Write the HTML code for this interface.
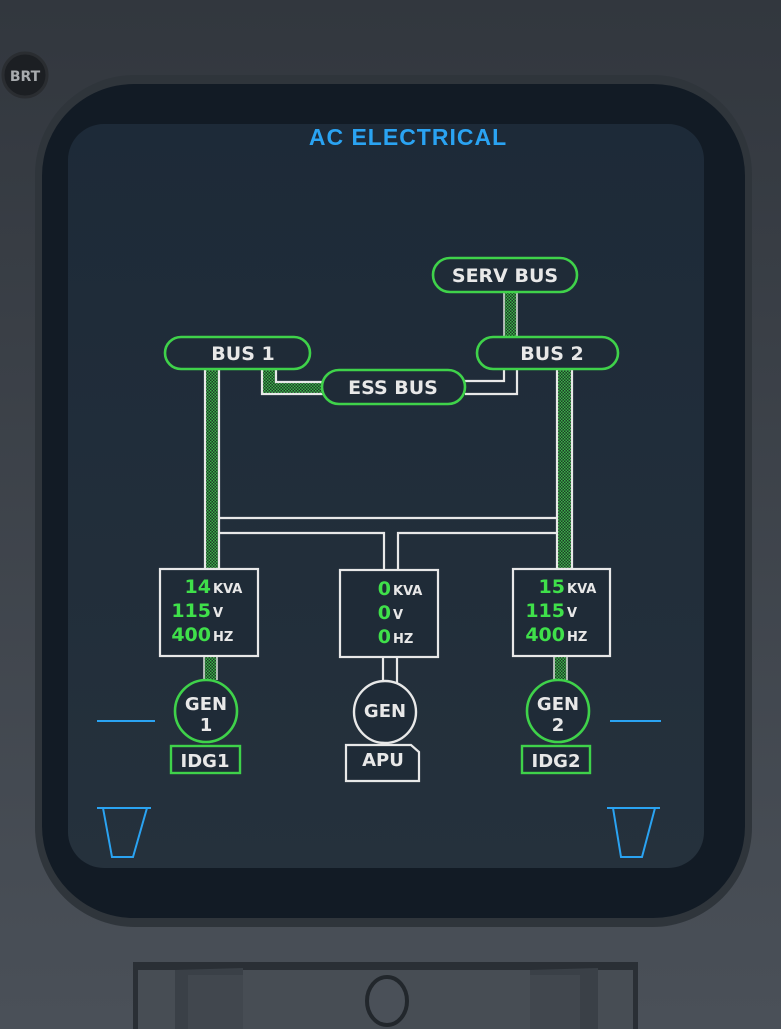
<!DOCTYPE html>
<html><head><meta charset="utf-8"><style>
html,body{margin:0;padding:0;width:781px;height:1029px;overflow:hidden;background:#3c4249}
svg{display:block}
text{font-family:"DejaVu Sans","Liberation Sans",sans-serif;font-weight:bold}
</style></head><body>
<svg width="781" height="1029" viewBox="0 0 781 1029" xmlns="http://www.w3.org/2000/svg">
<defs>
<linearGradient id="bg" x1="0" y1="0" x2="0" y2="1"><stop offset="0" stop-color="#32373e"/><stop offset="1" stop-color="#4a5058"/></linearGradient>
<linearGradient id="scr" x1="0" y1="0" x2="0" y2="1"><stop offset="0" stop-color="#1d2a38"/><stop offset="1" stop-color="#25313c"/></linearGradient>
<pattern id="h" width="3" height="3" patternUnits="userSpaceOnUse"><rect width="3" height="3" fill="#1d3a26"/><rect width="1.5" height="1.5" fill="#3bb04a"/><rect x="1.5" y="1.5" width="1.5" height="1.5" fill="#3bb04a"/></pattern>
</defs>
<rect width="781" height="1029" fill="url(#bg)"/>
<circle cx="25" cy="75" r="22" fill="#1c1f23" stroke="#2a2d31" stroke-width="3"/>
<text x="25" y="81" font-size="14" fill="#a8abae" text-anchor="middle" font-weight="normal">BRT</text>
<rect x="35" y="75" width="717" height="852" rx="100" fill="#2f353b"/>
<rect x="42" y="84" width="703" height="834" rx="92" fill="#121b25"/>
<rect x="68" y="124" width="636" height="744" rx="36" fill="url(#scr)"/>
<text x="408" y="145" font-size="23" fill="#2aa3f2" text-anchor="middle" style="font-family:'Liberation Sans',sans-serif;font-weight:bold" letter-spacing="1">AC ELECTRICAL</text>

<g stroke="#e8e8e8" stroke-width="2.2" fill="none">
<rect x="205" y="369" width="14" height="200" fill="url(#h)"/>
<rect x="557" y="369" width="15" height="200" fill="url(#h)"/>
<rect x="204" y="656" width="13" height="24" fill="url(#h)" stroke="none"/>
<rect x="554" y="656" width="13" height="24" fill="url(#h)" stroke="none"/>
<rect x="504" y="292" width="13" height="45" fill="url(#h)" stroke="none"/>
<path d="M262 369 V394 H323 V382 H276 V369 Z" fill="url(#h)"/>
<path d="M465 381 H504 V369 M465 394 H517 V369"/>
<path d="M219 518 H557 M219 533 H384 V569 M398 569 V533 H557"/>
<path d="M383 657 V688 M397 657 V688"/>
</g>
<path d="M204 656 V680 M217 656 V680 M554 656 V680 M567 656 V680 M504 292 V337 M517 292 V337" stroke="#ddd" stroke-width="1.5"/>

<g stroke="#3fd24a" stroke-width="2.6" fill="#1f2b37">
<rect x="433" y="258" width="144" height="34" rx="17"/>
<rect x="165" y="337" width="145" height="32" rx="16"/>
<rect x="477" y="337" width="141" height="32" rx="16"/>
<rect x="322" y="370" width="143" height="34" rx="17"/>
</g>
<g fill="#e8e8e8" font-size="19" text-anchor="middle">
<text x="505" y="282">SERV BUS</text>
<text x="243" y="360">BUS 1</text>
<text x="552" y="360">BUS 2</text>
<text x="393" y="394">ESS BUS</text>
</g>

<g stroke="#e8e8e8" stroke-width="2.2" fill="#1f2b37">
<rect x="160" y="569" width="98" height="87"/>
<rect x="340" y="570" width="98" height="87"/>
<rect x="513" y="569" width="97" height="87"/>
</g>
<g font-size="19" fill="#3fe04a" text-anchor="end">
<text x="211" y="593">14</text><text x="211" y="617">115</text><text x="211" y="641">400</text>
<text x="391" y="595">0</text><text x="391" y="619">0</text><text x="391" y="643">0</text>
<text x="565" y="593">15</text><text x="565" y="617">115</text><text x="565" y="641">400</text>
</g>
<g font-size="13" fill="#e8e8e8">
<text x="213" y="593">KVA</text><text x="213" y="617">V</text><text x="213" y="641">HZ</text>
<text x="393" y="595">KVA</text><text x="393" y="619">V</text><text x="393" y="643">HZ</text>
<text x="567" y="593">KVA</text><text x="567" y="617">V</text><text x="567" y="641">HZ</text>
</g>

<circle cx="206" cy="711" r="31" fill="#1f2b37" stroke="#3fd24a" stroke-width="2.6"/>
<circle cx="385" cy="712" r="31" fill="#1f2b37" stroke="#e8e8e8" stroke-width="2.4"/>
<circle cx="558" cy="711" r="31" fill="#1f2b37" stroke="#3fd24a" stroke-width="2.6"/>
<g fill="#e8e8e8" font-size="18" text-anchor="middle">
<text x="206" y="710">GEN</text><text x="206" y="731">1</text>
<text x="385" y="717">GEN</text>
<text x="558" y="710">GEN</text><text x="558" y="731">2</text>
</g>
<rect x="171" y="746" width="69" height="27" fill="#1f2b37" stroke="#3fd24a" stroke-width="2.4"/>
<rect x="522" y="746" width="68" height="27" fill="#1f2b37" stroke="#3fd24a" stroke-width="2.4"/>
<path d="M346 745 H411 L419 752 V781 H346 Z" fill="#1f2b37" stroke="#e8e8e8" stroke-width="2.2"/>
<g fill="#e8e8e8" font-size="18" text-anchor="middle">
<text x="205" y="767">IDG1</text><text x="556" y="767">IDG2</text><text x="383" y="766">APU</text>
</g>

<g stroke="#2aa3f2" stroke-width="2" fill="none">
<path d="M97 721 H155 M610 721 H661"/>
<path d="M97 808 H151 M103 808 L112 857 H133 L147 808"/>
<path d="M607 808 H660 M613 808 L621 857 H642 L655 808"/>
</g>

<rect x="133" y="962" width="505" height="67" fill="#2a2f35"/>
<rect x="138" y="970" width="495" height="59" fill="#474d54"/>
<path d="M175 970 L243 968 V1029 H175 Z" fill="#3a4047"/>
<rect x="188" y="975" width="55" height="54" fill="#41474e"/>
<path d="M530 970 L598 968 V1029 H530 Z" fill="#3a4047"/>
<rect x="530" y="975" width="50" height="54" fill="#41474e"/>
<ellipse cx="387" cy="1001" rx="20" ry="24" fill="#4a5058" stroke="#22272c" stroke-width="4"/>
</svg>
</body></html>
